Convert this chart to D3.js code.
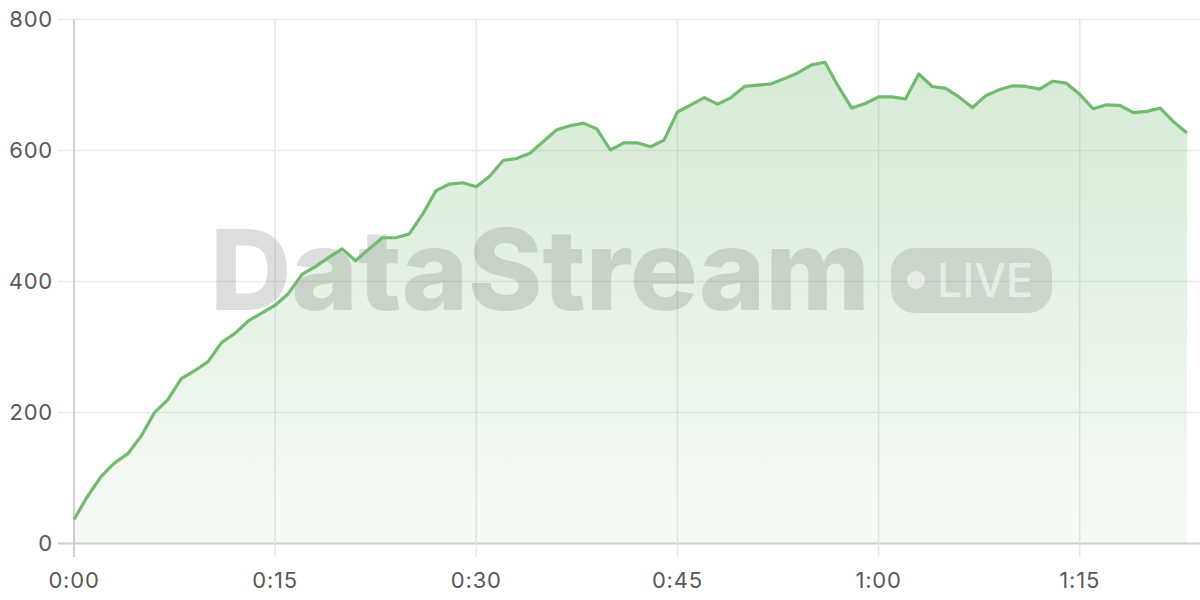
<!DOCTYPE html>
<html><head><meta charset="utf-8">
<script src="https://cdn.jsdelivr.net/npm/d3@7"></script>
<style>
html,body{margin:0;padding:0;background:#fff;}
svg{display:block;font-family:Inter,"Open Sans",sans-serif;}
</style></head>
<body>
<svg id="chart" width="1200" height="600"></svg>
<script>
const seconds = d3.range(0, 84);
const values = [36,71,101,122,136,163,199,219,251,263,
277,306,320,339,351,363,381,410,422,436,
449,431,449,466,466,472,502,538,548,550,
544,560,584,587,595,613,631,637,641,632,
600,611,611,605,615,658,669,680,670,680,
697,699,701,709,718,730,734,697,664,671,
681,681,678,716,697,694,681,665,683,692,
698,697,693,705,702,685,663,669,668,657,
659,664,643,626];
const yTicks = [0,200,400,600,800];
const xTicks = [0,15,30,45,60,75];
const watermarkText = "DataStream";
const badgeText = "LIVE";

const svg = d3.select("#chart");
const x = d3.scaleLinear().domain([0,83]).range([74,1187]);
const y = d3.scaleLinear().domain([0,800]).range([543,19]);
const fmt = s => Math.floor(s/60) + ":" + String(s%60).padStart(2,"0");

const defs = svg.append("defs");
const grad = defs.append("linearGradient").attr("id","ag")
  .attr("gradientUnits","userSpaceOnUse").attr("x1",0).attr("x2",0).attr("y1",19).attr("y2",543);
grad.append("stop").attr("offset","0").attr("stop-color","#72ba70").attr("stop-opacity",0.32);
grad.append("stop").attr("offset","1").attr("stop-color","#72ba70").attr("stop-opacity",0.06);

// grid
const grid = svg.append("g");
grid.selectAll("line.h").data(yTicks).join("line")
  .attr("x1",58).attr("x2",1200).attr("y1",d=>y(d)+0.5).attr("y2",d=>y(d)+0.5)
  .attr("stroke",d=>d===0?"#cfcfcf":"#e9e9e9").attr("stroke-width",d=>d===0?2:1.5);
grid.selectAll("line.v").data(xTicks).join("line")
  .attr("y1",19).attr("y2",557).attr("x1",d=>x(d)).attr("x2",d=>x(d))
  .attr("stroke",d=>d===0?"#d0d0d0":"#e6e6e6").attr("stroke-width",d=>d===0?2:1.5);

// area
const area = d3.area().x((d,i)=>x(seconds[i])).y0(y(0)).y1(d=>y(d));
svg.append("path").datum(values).attr("d",area).attr("fill","url(#ag)");

// watermark
const wm = svg.append("g");
wm.append("text").attr("x",210).attr("y",310).text(watermarkText)
  .attr("font-size",112).attr("font-weight",800).attr("fill","#777").attr("fill-opacity",0.25)
  .attr("textLength",660).attr("lengthAdjust","spacingAndGlyphs");
wm.append("rect").attr("x",891).attr("y",248).attr("width",161).attr("height",65).attr("rx",24)
  .attr("fill","#777").attr("fill-opacity",0.22);
wm.append("circle").attr("cx",916).attr("cy",280).attr("r",9).attr("fill","#fff").attr("fill-opacity",0.55);
wm.append("text").attr("x",937).attr("y",297).text(badgeText)
  .attr("font-size",46).attr("font-weight",500).attr("fill","#fff").attr("fill-opacity",0.55)
  .attr("textLength",96).attr("lengthAdjust","spacingAndGlyphs");

// line
const line = d3.line().x((d,i)=>x(seconds[i])).y(d=>y(d));
svg.append("path").datum(values).attr("d",line).attr("fill","none")
  .attr("stroke","#72ba70").attr("stroke-width",3.2).attr("stroke-linejoin","round");

// labels
svg.append("g").selectAll("text").data(yTicks).join("text")
  .attr("x",53).attr("y",d=>y(d)).attr("dy","0.36em").attr("text-anchor","end")
  .attr("font-size",22).attr("fill","#585858").attr("letter-spacing",0.8).text(d=>d);
svg.append("g").selectAll("text").data(xTicks).join("text")
  .attr("x",d=>x(d)).attr("y",580).attr("dy","0.36em").attr("text-anchor","middle")
  .attr("font-size",22).attr("fill","#585858").attr("letter-spacing",0.8).text(fmt);
</script>
</body></html>
